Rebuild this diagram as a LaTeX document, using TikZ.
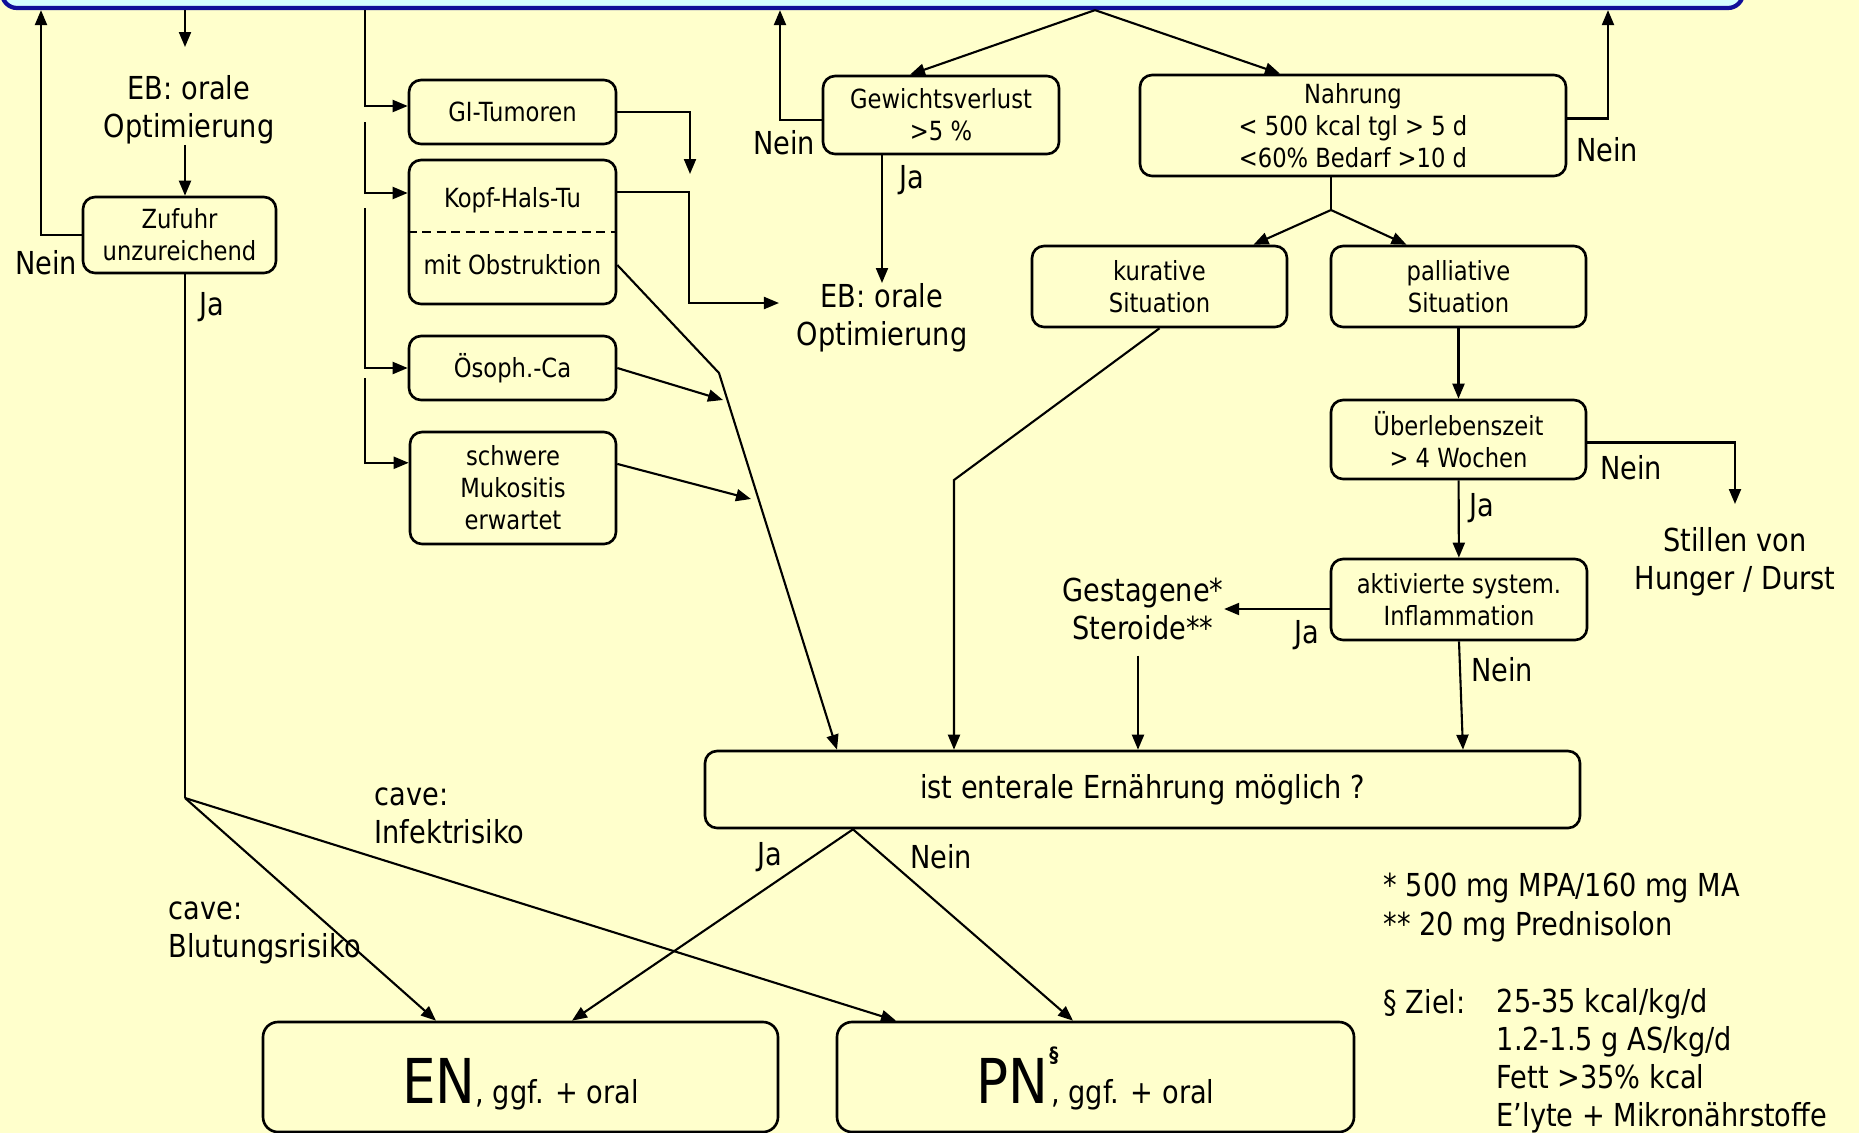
\documentclass[tikz,border=0pt]{standalone}
\usepackage{fontspec}
\setmainfont{DejaVu Sans}[FakeStretch=0.86]
\usepackage{tikz}
\usetikzlibrary{arrows.meta,calc}
\usepackage{xcolor}
\definecolor{slidebg}{HTML}{FFFFCC}
\definecolor{headfill}{HTML}{D4FFFF}
\definecolor{headline}{HTML}{10109A}

\begin{document}
\begin{tikzpicture}[x=0.1mm, y=-0.1mm, every node/.style={font=\fontsize{9}{10.8}\selectfont}]
\tikzset{box/.style={draw, rounded corners=1.2mm, line width=0.75pt, inner sep=0pt, align=center, font=\fontsize{7.5}{9.1}\selectfont}}
\tikzset{txt/.style={inner sep=0pt, align=center}}
\tikzset{arrow/.style={-{Triangle[length=1.5mm, width=1.2mm]}, line width=0.6pt}}
\tikzset{line/.style={line width=0.6pt}}
\useasboundingbox (0,0) rectangle (1859,1133);
\clip (0,0) rectangle (1859,1133);
\fill[slidebg] (0,0) rectangle (1859,1133);

\node[draw=headline, fill=headfill, line width=1.2pt, rounded corners=1.5mm, minimum width=174.1mm, minimum height=6.8mm] (top) at (872.5,-26) {};

\node[box, minimum width=19.3mm, minimum height=7.6mm] (zuf) at (179.5,235) {Zufuhr\\unzureichend};
\node[txt] (eb1) at (189,110) {EB: orale\\Optimierung};

\node[box, minimum width=20.7mm, minimum height=6.4mm] (gi) at (512.5,112) {GI-Tumoren};
\node[box, minimum width=20.7mm, minimum height=14.4mm] (kopf) at (512.5,232) {};
\node[txt, font=\fontsize{7.5}{9.1}\selectfont] (kopfa) at (512.5,200) {Kopf-Hals-Tu};
\node[txt, font=\fontsize{7.5}{9.1}\selectfont] (kopfb) at (512.5,265) {mit Obstruktion};
\node[box, minimum width=20.7mm, minimum height=6.4mm] (oes) at (512.5,368) {Ösoph.-Ca};
\node[box, minimum width=20.6mm, minimum height=11.2mm] (muk) at (513,488) {schwere\\Mukositis\\erwartet};
\node[txt] (eb2) at (882,318) {EB: orale\\Optimierung};

\node[box, minimum width=23.6mm, minimum height=7.8mm] (gew) at (941,115) {Gewichtsverlust\\>5 \%};
\node[box, minimum width=42.6mm, minimum height=10.1mm] (nahr) at (1353,125.5) {Nahrung\\< 500 kcal tgl > 5 d\\<60\% Bedarf >10 d};
\node[box, minimum width=25.5mm, minimum height=8.1mm] (kur) at (1159.5,286.5) {kurative\\Situation};
\node[box, minimum width=25.5mm, minimum height=8.1mm] (pal) at (1458.5,286.5) {palliative\\Situation};
\node[box, minimum width=25.5mm, minimum height=7.9mm] (ueb) at (1458.5,439.5) {Überlebenszeit\\> 4 Wochen};
\node[box, minimum width=25.6mm, minimum height=8.1mm] (akt) at (1459,599.5) {aktivierte system.\\Inflammation};
\node[txt] (still) at (1735,562) {Stillen von\\Hunger / Durst};
\node[txt] (ges) at (1143,609) {Gestagene*\\Steroide**};

\node[box, font=\fontsize{9}{10.8}\selectfont, minimum width=87.5mm, minimum height=7.7mm] (ent) at (1142.5,789.5) {ist enterale Ernährung möglich ?};
\node[box, rounded corners=1.5mm, font=\fontsize{9}{10.8}\selectfont, text height=16.9pt, text depth=2.1pt, minimum width=51.5mm, minimum height=11mm] (en) at (520.5,1077) {{\fontsize{17.6}{20}\selectfont EN}, ggf. + oral};
\node[box, rounded corners=1.5mm, font=\fontsize{9}{10.8}\selectfont, text height=16.9pt, text depth=2.1pt, minimum width=51.7mm, minimum height=11mm] (pn) at (1095.5,1077) {{\fontsize{17.6}{20}\selectfont PN}\rlap{\kern0.1mm\raisebox{4.1mm}{\fontsize{6}{6}\selectfont\bfseries §}}\kern0.3mm, ggf. + oral};

\node[txt, align=left, anchor=west] (cavea) at (374,816) {cave:\\Infektrisiko};
\node[txt, align=left, anchor=west] (caveb) at (168,933) {cave:\\Blutungsrisiko};

\node[txt, anchor=west] (fna) at (1383,888) {* 500 mg MPA/160 mg MA};
\node[txt, anchor=west] (fnb) at (1383,927) {** 20 mg Prednisolon};
\node[txt, anchor=west] (ziel) at (1383,1003) {§ Ziel:};
\node[txt, align=left, anchor=west] (zielwerte) at (1496,1060.5) {25-35 kcal/kg/d\\1.2-1.5 g AS/kg/d\\Fett >35\% kcal\\E’lyte + Mikronährstoffe};

\node[txt] (neina) at (46,263) {Nein};
\node[txt] (jaa) at (212,307) {Ja};
\node[txt] (neinb) at (784,143) {Nein};
\node[txt] (jab) at (912,180) {Ja};
\node[txt] (neinc) at (1607,150) {Nein};
\node[txt] (neind) at (1631,468) {Nein};
\node[txt] (jac) at (1482,508) {Ja};
\node[txt] (jad) at (1307,635) {Ja};
\node[txt] (neine) at (1502,670) {Nein};
\node[txt] (jae) at (770,857) {Ja};
\node[txt] (neinf) at (941,857) {Nein};

\draw[dashed, dash pattern=on 0.9mm off 0.55mm, line width=0.6pt] (kopf.west) -- (kopf.east);

\draw[arrow] (zuf.west) -| (top.south -| 41,0);
\draw[arrow, shorten >=2.8mm] (top.south -| 185,0) -- (eb1.north -| 185,0);
\draw[arrow] (eb1.south -| 185,0) -- (zuf.north -| 185,0);
\coordinate (zsplit) at (185,798);
\draw[line] (zuf.south -| zsplit) -- (zsplit);
\draw[arrow] (zsplit) -- (en.north -| 436,0);
\draw[arrow] (zsplit) -- (pn.north -| 896,0);

\coordinate (busb) at (365,122);
\coordinate (busc) at (365,208);
\coordinate (busd) at (365,378);
\draw[arrow] (top.south -| busb) |- ($(gi.west)+(0,-6)$);
\draw[arrow] (busb) |- ($(kopf.west |- kopfa)+(0,-7)$);
\draw[arrow] (busc) |- (oes.west);
\draw[arrow] (busd) |- ($(muk.north west)!0.28!(muk.south west)$);

\coordinate (gidown) at (690,174);
\draw[arrow] (gi.east) -| (gidown);
\draw[arrow] ($(kopf.east |- kopfa)+(0,-8)$) -- ++(72,0) |- ($(eb2.west)+(-17,-15)$);
\coordinate (obend) at (719,373);
\draw[arrow] (kopf.east |- kopfb) -- (obend) -- (ent.north -| 837,0);
\coordinate (oesin) at (723,400);
\draw[arrow] (oes.east) -- (oesin);
\coordinate (mukin) at (751,499);
\draw[arrow] ($(muk.north east)!0.29!(muk.south east)$) -- (mukin);

\coordinate (apex) at (top.south -| 1095,0);
\draw[arrow] (apex) -- ($(gew.north)+(-31,0)$);
\draw[arrow] (apex) -- ($(nahr.north)+(-73,0)$);
\draw[arrow] ($(gew.west)+(0,5)$) -| (top.south -| 780,0);
\draw[arrow] (gew.south -| eb2) -- (eb2.north);
\draw[arrow] ($(nahr.east)+(0,-7)$) -| (top.south -| 1608,0);
\coordinate (nsplit) at (1331,210);
\draw[line] (nahr.south -| nsplit) -- (nsplit);
\draw[arrow] (nsplit) -- ($(kur.north)+(94,0)$);
\draw[arrow] (nsplit) -- ($(pal.north)+(-52,0)$);
\coordinate (kbend) at (954,480);
\draw[arrow] (kur.south) -- (kbend) -- (kbend |- ent.north);
\draw[arrow] (pal) -- (ueb);
\draw[arrow, shorten >=2.3mm] ($(ueb.east)+(0,3)$) -| (still.north);
\draw[arrow] (ueb) -- (akt);
\draw[arrow] (akt.west |- ges) -- (ges.east);
\draw[arrow] ($(ges.south)+(-5,15)$) -- ($(ges.south |- ent.north)+(-5,0)$);
\draw[arrow] (akt.south) -- ($(akt.south |- ent.north)+(4,0)$);
\coordinate (esplit) at (ent.south -| 853,0);
\draw[arrow] (esplit) -- (en.north -| 572,0);
\draw[arrow] (esplit) -- (pn.north -| 1073,0);
\end{tikzpicture}
\end{document}
